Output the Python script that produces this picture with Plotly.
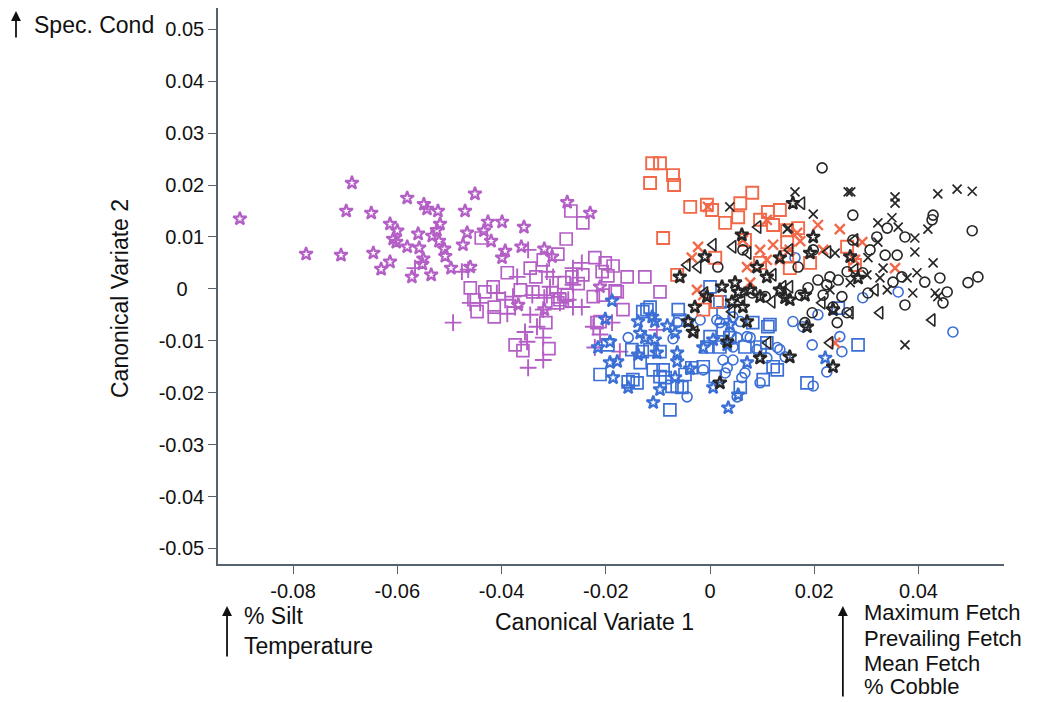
import plotly.graph_objects as go

# ---------------- data (Canonical Variate 1, Canonical Variate 2) ----------------
purple_star_x = [-0.0902, -0.0687, -0.0698, -0.0650, -0.0775, -0.0708, -0.0646, -0.0631, -0.0614, -0.0614,
                 -0.0600, -0.0608, -0.0602, -0.0581, -0.0581, -0.0572, -0.0560, -0.0558, -0.0549, -0.0543,
                 -0.0522, -0.0470, -0.0451, -0.0426, -0.0399, -0.0357, -0.0466, -0.0434, -0.0420, -0.0474,
                 -0.0518, -0.0524, -0.0533, -0.0520, -0.0510, -0.0508, -0.0550, -0.0552, -0.0535, -0.0497,
                 -0.0460, -0.0393, -0.0399, -0.0362, -0.0318, -0.0274, -0.0230, -0.0303, -0.0368, -0.0318,
                 -0.0211]
purple_star_y = [0.0135, 0.0204, 0.0150, 0.0146, 0.0067, 0.0065, 0.0069, 0.0038, 0.0052, 0.0125,
                 0.0112, 0.0096, 0.0090, 0.0175, 0.0081, 0.0023, 0.0106, 0.0079, 0.0163, 0.0154,
                 0.0150, 0.0150, 0.0183, 0.0129, 0.0129, 0.0119, 0.0108, 0.0112, 0.0092, 0.0085,
                 0.0125, 0.0113, 0.0102, 0.0092, 0.0077, 0.0063, 0.0058, 0.0048, 0.0027, 0.0040,
                 0.0042, 0.0073, 0.0060, 0.0081, 0.0077, 0.0167, 0.0146, 0.0062, -0.0031, -0.0040,
                 0.0004]

purple_square_x = [-0.0439, -0.0276, -0.0267, -0.0244, -0.0389, -0.0416, -0.0460, -0.0432, -0.0453, -0.0447,
                   -0.0414, -0.0414, -0.0364, -0.0340, -0.0345, -0.0334, -0.0320, -0.0292, -0.0265, -0.0244,
                   -0.0253, -0.0280, -0.0274, -0.0292, -0.0315, -0.0374, -0.0359, -0.0309, -0.0221, -0.0224,
                   -0.0217, -0.0201, -0.0186, -0.0159, -0.0125, -0.0207, -0.0182, -0.0288, -0.0205, -0.0178,
                   -0.0096, -0.0167, -0.0211, -0.0196]
purple_square_y = [0.0098, 0.0096, 0.0150, 0.0127, 0.0031, 0.0004, 0.0002, -0.0006, -0.0021, -0.0044,
                   -0.0035, -0.0054, -0.0002, -0.0006, 0.0040, 0.0023, 0.0056, 0.0067, 0.0023, 0.0027,
                   0.0010, 0.0012, -0.0012, -0.0027, -0.0065, -0.0108, -0.0119, -0.0115, 0.0060, -0.0015,
                   -0.0065, 0.0050, 0.0044, 0.0023, 0.0023, 0.0033, -0.0004, -0.0021, -0.0012, -0.0006,
                   -0.0006, -0.0040, -0.0063, 0.0025]

purple_cross_x = [-0.0566, -0.0476, -0.0464, -0.0349, -0.0370, -0.0301, -0.0246, -0.0263, -0.0409, -0.0378,
                  -0.0341, -0.0307, -0.0393, -0.0374, -0.0460, -0.0441, -0.0318, -0.0292, -0.0288, -0.0272,
                  -0.0246, -0.0389, -0.0345, -0.0332, -0.0493, -0.0355, -0.0320, -0.0351, -0.0320, -0.0349,
                  -0.0224, -0.0221, -0.0320, -0.0263, -0.0313, -0.0263, -0.0313, -0.0211, -0.0188, -0.0173,
                  -0.0102]
purple_cross_y = [0.0040, 0.0033, 0.0037, 0.0075, 0.0023, 0.0023, 0.0050, 0.0040, -0.0008, -0.0015,
                  -0.0012, 0.0004, -0.0021, -0.0035, -0.0027, -0.0027, -0.0017, -0.0008, -0.0027, -0.0021,
                  -0.0035, -0.0048, -0.0050, -0.0073, -0.0065, -0.0083, -0.0094, -0.0102, -0.0137, -0.0152,
                  -0.0073, -0.0113, -0.0040, -0.0035, 0.0033, 0.0008, -0.0012, -0.0088, -0.0065, -0.0121,
                  -0.0079]

orange_square_x = [-0.0111, -0.0096, -0.0115, -0.0071, -0.0069, -0.0038, -0.0006, 0.0004, 0.0029, 0.0054,
                   0.0058, 0.0081, 0.0096, 0.0111, 0.0134, 0.0121, -0.0090, 0.0010, -0.0063, -0.0013,
                   0.0013, 0.0148, 0.0148, 0.0153, 0.0169, 0.0148, 0.0263, 0.0192, 0.0278, 0.0067,
                   0.0096]
orange_square_y = [0.0242, 0.0242, 0.0204, 0.0219, 0.0200, 0.0158, 0.0162, 0.0152, 0.0127, 0.0138,
                   0.0165, 0.0185, 0.0133, 0.0148, 0.0152, 0.0123, 0.0098, 0.0060, 0.0027, -0.0040,
                   -0.0025, 0.0113, 0.0090, 0.0040, 0.0117, 0.0062, 0.0081, 0.0050, 0.0046, 0.0094,
                   0.0050]

orange_x_x = [-0.0023, -0.0035, -0.0004, 0.0096, 0.0109, 0.0071, 0.0077, 0.0121, 0.0134, 0.0063,
              -0.0025, -0.0013, 0.0167, 0.0153, 0.0109, 0.0207, 0.0249, 0.0217, 0.0292, 0.0278,
              0.0355, 0.0173, 0.0240]
orange_x_y = [0.0081, 0.0060, 0.0158, 0.0075, 0.0056, 0.0042, 0.0012, 0.0085, 0.0056, 0.0094,
              -0.0002, -0.0012, 0.0108, 0.0075, 0.0133, 0.0123, 0.0115, 0.0075, 0.0090, 0.0056,
              0.0040, 0.0092, -0.0104]

blue_square_x = [-0.0196, -0.0211, -0.0157, -0.0140, -0.0121, -0.0115, -0.0130, -0.0134, -0.0096, -0.0109,
                 -0.0090, -0.0096, -0.0086, -0.0073, -0.0054, -0.0077, -0.0048, -0.0035, -0.0013, 0.0010,
                 -0.0061, 0.0000, 0.0013, 0.0000, 0.0025, 0.0019, -0.0006, -0.0129, -0.0058, 0.0019,
                 0.0038, 0.0067, 0.0111, 0.0109, 0.0121, 0.0102, 0.0058, -0.0150, -0.0115, -0.0148,
                 -0.0063, 0.0082, 0.0115, 0.0096, 0.0129, 0.0186, 0.0246, 0.0284, 0.0025]
blue_square_y = [-0.0108, -0.0165, -0.0179, -0.0181, -0.0040, -0.0035, -0.0121, -0.0142, -0.0121, -0.0156,
                 -0.0156, -0.0169, -0.0171, -0.0188, -0.0190, -0.0233, -0.0165, -0.0152, -0.0150, -0.0169,
                 -0.0040, 0.0004, -0.0025, -0.0092, -0.0079, -0.0112, -0.0112, -0.0044, -0.0060, -0.0025,
                 -0.0094, -0.0112, -0.0073, -0.0104, -0.0150, -0.0175, -0.0190, -0.0117, -0.0117, -0.0175,
                 -0.0188, -0.0065, -0.0069, -0.0112, -0.0156, -0.0181, -0.0037, -0.0108, -0.0046]

blue_star_x = [-0.0188, -0.0201, -0.0138, -0.0111, -0.0106, -0.0082, -0.0067, -0.0134, -0.0125, -0.0106,
               -0.0192, -0.0215, -0.0178, -0.0192, -0.0186, -0.0138, -0.0102, -0.0063, -0.0063, -0.0067,
               -0.0096, -0.0157, -0.0109, -0.0038, -0.0013, 0.0006, 0.0006, 0.0035, 0.0033, 0.0038,
               0.0071, 0.0054, 0.0221]
blue_star_y = [-0.0023, -0.0058, -0.0063, -0.0054, -0.0063, -0.0071, -0.0085, -0.0085, -0.0094, -0.0098,
               -0.0102, -0.0113, -0.0140, -0.0142, -0.0171, -0.0127, -0.0123, -0.0123, -0.0140, -0.0171,
               -0.0194, -0.0190, -0.0219, -0.0154, -0.0113, -0.0098, -0.0190, -0.0229, -0.0108, -0.0069,
               -0.0142, -0.0204, -0.0133]

blue_circle_x = [-0.0157, -0.0071, -0.0063, -0.0042, -0.0019, 0.0019, 0.0038, -0.0013, 0.0025, 0.0044,
                 0.0033, -0.0044, 0.0052, 0.0013, 0.0052, 0.0071, 0.0044, 0.0129, 0.0109, 0.0144,
                 0.0067, 0.0044, 0.0159, 0.0096, 0.0058, 0.0077, 0.0090, 0.0134, 0.0029, 0.0061,
                 0.0178, 0.0196, 0.0207, 0.0253, 0.0224, 0.0198, 0.0293, 0.0163, 0.0249, 0.0361,
                 0.0466]
blue_circle_y = [-0.0094, -0.0096, -0.0065, -0.0063, -0.0060, -0.0065, -0.0085, -0.0156, -0.0137, -0.0137,
                 -0.0152, -0.0208, -0.0208, -0.0060, -0.0094, -0.0092, -0.0112, -0.0113, -0.0133, -0.0131,
                 -0.0162, -0.0054, -0.0063, -0.0181, -0.0063, -0.0094, -0.0117, -0.0117, -0.0162, -0.0171,
                 -0.0073, -0.0108, -0.0050, -0.0121, -0.0160, -0.0187, -0.0017, 0.0060, -0.0092, -0.0006,
                 -0.0083]

black_star_x = [-0.0058, -0.0010, -0.0029, -0.0042, -0.0033, -0.0006, 0.0061, 0.0090, 0.0023, 0.0048,
                0.0054, 0.0042, 0.0063, 0.0071, 0.0077, 0.0096, 0.0134, 0.0134, 0.0153, 0.0109,
                0.0033, 0.0096, 0.0153, 0.0019, 0.0159, 0.0198, 0.0192, 0.0269, 0.0284, 0.0144,
                0.0182, 0.0236, 0.0186, 0.0236]
black_star_y = [0.0023, 0.0062, -0.0035, -0.0063, -0.0083, -0.0015, 0.0104, 0.0042, 0.0004, 0.0012,
                -0.0006, -0.0025, -0.0035, -0.0063, -0.0002, -0.0015, 0.0060, -0.0002, -0.0021, 0.0023,
                -0.0102, -0.0133, -0.0131, -0.0181, 0.0165, 0.0100, 0.0069, 0.0062, 0.0021, -0.0017,
                -0.0012, -0.0040, -0.0073, -0.0150]

black_triangle_x = [-0.0044, -0.0023, 0.0006, 0.0044, 0.0073, 0.0092, 0.0121, -0.0010, 0.0042, -0.0029,
                    0.0119, 0.0111, 0.0140, 0.0153, 0.0176, 0.0226, 0.0278, 0.0278, 0.0215, 0.0269,
                    0.0317, 0.0326, 0.0426, 0.0230, 0.0153, 0.0061]
black_triangle_y = [0.0046, 0.0042, 0.0085, 0.0081, 0.0069, 0.0119, 0.0027, -0.0008, -0.0044, -0.0083,
                    -0.0025, -0.0104, 0.0004, 0.0075, 0.0165, 0.0071, 0.0094, 0.0037, -0.0027, -0.0046,
                    -0.0002, -0.0046, -0.0060, -0.0104, 0.0004, -0.0021]

black_circle_x = [0.0215, 0.0274, 0.0340, 0.0320, 0.0374, 0.0426, 0.0428, 0.0503, 0.0274, 0.0307,
                  0.0336, 0.0359, 0.0198, 0.0169, 0.0207, 0.0230, 0.0246, 0.0263, 0.0293, 0.0351,
                  0.0368, 0.0412, 0.0441, 0.0495, 0.0514, 0.0455, 0.0447, 0.0374, 0.0236, 0.0244,
                  0.0182, 0.0196, 0.0303, 0.0253, 0.0217, 0.0173, 0.0188, 0.0224, 0.0015, 0.0063,
                  0.0058, 0.0081, 0.0106, 0.0263]
black_circle_y = [0.0233, 0.0142, 0.0117, 0.0100, 0.0100, 0.0133, 0.0142, 0.0112, 0.0094, 0.0075,
                  0.0065, 0.0065, 0.0075, 0.0042, 0.0017, 0.0023, 0.0017, 0.0033, 0.0031, 0.0013,
                  0.0023, 0.0013, 0.0021, 0.0012, 0.0023, -0.0006, -0.0027, -0.0031, -0.0035, -0.0065,
                  -0.0065, -0.0046, -0.0008, -0.0015, -0.0012, -0.0012, 0.0002, 0.0008, 0.0042, 0.0075,
                  -0.0008, -0.0008, -0.0015, -0.0046]

black_x_x = [0.0163, 0.0265, 0.0270, 0.0355, 0.0355, 0.0437, 0.0474, 0.0503, 0.0198, 0.0148,
             0.0322, 0.0349, 0.0361, 0.0418, 0.0393, 0.0322, 0.0303, 0.0393, 0.0428, 0.0240,
             0.0332, 0.0326, 0.0378, 0.0397, 0.0340, 0.0389, 0.0432, 0.0437, 0.0269, 0.0301,
             0.0374, 0.0038, 0.0150, 0.0230]
black_x_y = [0.0187, 0.0187, 0.0187, 0.0177, 0.0165, 0.0183, 0.0192, 0.0188, 0.0144, 0.0115,
             0.0127, 0.0137, 0.0119, 0.0115, 0.0098, 0.0090, 0.0060, 0.0071, 0.0050, 0.0069,
             0.0040, 0.0021, 0.0021, 0.0031, -0.0002, -0.0008, -0.0008, -0.0015, 0.0012, 0.0027,
             -0.0108, 0.0158, 0.0117, -0.0002]

x_tick_vals = [-0.08, -0.06, -0.04, -0.02, 0, 0.02, 0.04]
x_tick_text = ["-0.08", "-0.06", "-0.04", "-0.02", "0", "0.02", "0.04"]
y_tick_vals = [0.05, 0.04, 0.03, 0.02, 0.01, 0, -0.01, -0.02, -0.03, -0.04, -0.05]
y_tick_text = ["0.05", "0.04", "0.03", "0.02", "0.01", "0\u00a0\u00a0\u00a0", "-0.01", "-0.02",
               "-0.03", "-0.04", "-0.05"]

# ---------------- style ----------------
PURPLE = "#b45fc6"
ORANGE = "#f2694a"
BLUE = "#3b6fd6"
BLACK = "#262626"
FONT = "Liberation Sans, Arial, Helvetica, sans-serif"

series = [
    (purple_star_x, purple_star_y, PURPLE, "star-open", 10, 2.2),
    (purple_square_x, purple_square_y, PURPLE, "square-open", 12, 1.7),
    (purple_cross_x, purple_cross_y, PURPLE, "cross-thin-open", 12, 1.9),
    (blue_square_x, blue_square_y, BLUE, "square-open", 12, 1.7),
    (blue_star_x, blue_star_y, BLUE, "star-open", 10, 2.2),
    (blue_circle_x, blue_circle_y, BLUE, "circle-open", 10, 1.6),
    (orange_square_x, orange_square_y, ORANGE, "square-open", 12, 1.9),
    (orange_x_x, orange_x_y, ORANGE, "x-thin-open", 10, 2.4),
    (black_triangle_x, black_triangle_y, BLACK, "triangle-left-open", 11, 1.6),
    (black_circle_x, black_circle_y, BLACK, "circle-open", 10, 1.6),
    (black_x_x, black_x_y, BLACK, "x-thin-open", 9, 1.7),
    (black_star_x, black_star_y, BLACK, "star-open", 10, 2.3),
]

fig = go.Figure()
for xs, ys, col, sym, size, lw in series:
    fig.add_trace(go.Scatter(
        x=xs, y=ys, mode="markers", showlegend=False, hoverinfo="skip",
        marker=dict(symbol=sym, size=size, color=col, line=dict(color=col, width=lw)),
    ))

AXIS_COL = "#56636e"
fig.update_xaxes(
    range=[-0.0944, 0.0564], showgrid=False, zeroline=False,
    showline=True, linecolor=AXIS_COL, linewidth=1.5,
    ticks="outside", ticklen=8, tickwidth=1.3, tickcolor=AXIS_COL,
    tickvals=x_tick_vals, ticktext=x_tick_text,
    tickfont=dict(family=FONT, size=20, color="#111"),
)
fig.update_yaxes(
    range=[-0.0530, 0.0541], showgrid=False, zeroline=False,
    showline=True, linecolor=AXIS_COL, linewidth=1.5,
    ticks="outside", ticklen=8, tickwidth=1.3, tickcolor=AXIS_COL,
    tickvals=y_tick_vals, ticktext=y_tick_text,
    tickfont=dict(family=FONT, size=20, color="#111"),
)


def label(text, x, y, anchor="left", angle=0, size=23):
    return dict(text=text, x=x, y=y, xref="paper", yref="paper", showarrow=False,
                xanchor=anchor, yanchor="middle", textangle=angle,
                font=dict(family=FONT, size=size, color="#111"))


annotations = [
    label("Canonical Variate 1", 0.4784, -0.1043, "center"),
    label("Canonical Variate 2", -0.1247, 0.4784, "center", -90),
    label("Spec. Cond", -0.2366, 0.9694),
    label("% Silt", 0.030, -0.0935),
    label("Temperature", 0.030, -0.1475),
    label("Maximum Fetch", 0.8190, -0.0881, size=22),
    label("Prevailing Fetch", 0.8190, -0.1331, size=22),
    label("Mean Fetch", 0.8190, -0.1781, size=22),
    label("% Cobble", 0.8190, -0.2212, size=22),
]
# arrows (head position in paper coords, tail offset in pixels)
for hx, hy, length in [(-0.2570, 0.9946, 28), (0.0115, -0.0755, 52), (0.7950, -0.0755, 92)]:
    annotations.append(dict(
        text="", x=hx, y=hy, xref="paper", yref="paper", showarrow=True,
        ax=0, ay=length, arrowhead=2, arrowsize=1.1, arrowwidth=1.8, arrowcolor="#111",
    ))

# the page body adds an 8px offset, so the figure is 8px smaller and margins shifted
fig.update_layout(
    width=1029, height=694,
    margin=dict(l=210, r=33, t=0, b=138),
    paper_bgcolor="white", plot_bgcolor="white",
    font=dict(family=FONT, color="#111"),
    annotations=annotations,
)

fig.write_html("out.html")
